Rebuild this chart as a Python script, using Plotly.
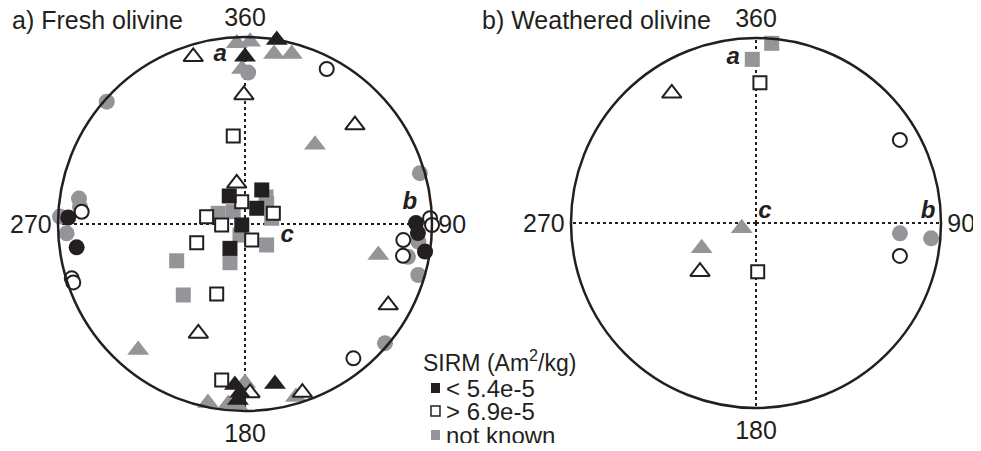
import plotly.graph_objects as go

# ---------------- data (azimuth in degrees clockwise from N, radius 0-1) -------------
# a) Fresh olivine
A_BLACK_SQ_AZ = [26.2, 330.7, 36.7, 253.1, 211.7]
A_BLACK_SQ_R = [0.203, 0.172, 0.105, 0.018, 0.153]
A_OPEN_SQ_AZ = [352.4, 351.6, 69.3, 280.8, 267.5, 157.3, 248.8, 202.0, 188.5]
A_OPEN_SQ_R = [0.475, 0.120, 0.162, 0.209, 0.125, 0.093, 0.277, 0.404, 0.843]
A_GRAY_SQ_AZ = [291.8, 316.4, 46.3, 77.9, 204.4, 134.1, 201.2, 241.7, 221.0, 37.9]
A_GRAY_SQ_R = [0.154, 0.091, 0.160, 0.146, 0.065, 0.161, 0.222, 0.415, 0.503, 0.183]

A_BLACK_TRI_AZ = [9.8, 0.0, 183.6, 181.7, 182.3, 169.4]
A_BLACK_TRI_R = [0.998, 0.895, 0.863, 0.904, 0.942, 0.871]
A_OPEN_TRI_AZ = [342.8, 359.5, 48.0, 348.5, 203.1, 119.5, 178.3, 161.2]
A_OPEN_TRI_R = [0.936, 0.690, 0.791, 0.222, 0.636, 0.880, 0.904, 0.952]
A_GRAY_TRI_AZ = [357.4, 1.6, 9.7, 15.4, 358.9, 41.5, 103.1, 220.3, 191.7, 185.3, 180.0, 163.6, 182.5]
A_GRAY_TRI_R = [0.967, 0.975, 0.922, 0.943, 0.829, 0.565, 0.732, 0.883, 0.977, 0.967, 0.850, 0.965, 0.969]

A_BLACK_CIR_AZ = [272.1, 262.1, 89.7, 93.0, 98.7]
A_BLACK_CIR_R = [0.946, 0.909, 0.914, 0.926, 0.974]
A_OPEN_CIR_AZ = [27.8, 274.3, 252.6, 251.2, 88.2, 95.8, 101.4, 141.1, 90.3]
A_OPEN_CIR_R = [0.937, 0.876, 0.971, 0.970, 0.990, 0.851, 0.862, 0.923, 1.0]
A_GRAY_CIR_AZ = [311.5, 1.2, 73.8, 278.7, 275.9, 272.3, 267.0, 95.8, 101.4, 106.4, 130.4]
A_GRAY_CIR_R = [0.987, 0.810, 0.974, 0.898, 0.887, 0.990, 0.955, 0.932, 0.889, 0.966, 0.983]

# b) Weathered olivine
B_GRAY_SQ_AZ = [5.0, 358.7]
B_GRAY_SQ_R = [0.975, 0.885]
B_OPEN_SQ_AZ = [1.6, 178.0]
B_OPEN_SQ_R = [0.759, 0.263]
B_OPEN_TRI_AZ = [327.0, 229.0]
B_OPEN_TRI_R = [0.836, 0.401]
B_GRAY_TRI_AZ = [249.7, 245.0]
B_GRAY_TRI_R = [0.082, 0.324]
B_OPEN_CIR_AZ = [60.0, 102.9]
B_OPEN_CIR_R = [0.898, 0.798]
B_GRAY_CIR_AZ = [94.1, 95.0]
B_GRAY_CIR_R = [0.780, 0.950]

# axis labels (a, b, c crystallographic axes)
AXIS_LABELS = ["a", "b", "c"]
A_AXIS_AZ = [351.6, 82.7, 106.0]
A_AXIS_R = [0.913, 0.889, 0.234]
B_AXIS_AZ = [352.1, 86.3, 39.3]
B_AXIS_R = [0.900, 0.932, 0.077]

ANG_TICKVALS = [0, 90, 180, 270]
ANG_TICKTEXT = ["360", "90", "180", "270"]

PANEL_TITLES = ["a) Fresh olivine", "b) Weathered olivine"]
LEGEND_TITLE = "SIRM (Am<sup>2</sup>/kg)"
LEGEND_LABELS = ["< 5.4e-5", "> 6.9e-5", "not known"]

# ---------------- styling -------------
BLACK = "#231f20"
GRAY = "#939598"
FONT = "Liberation Sans, Arial, sans-serif"

STYLE = {
    "black": dict(color=BLACK, line=dict(width=0)),
    "gray": dict(color=GRAY, line=dict(width=0)),
    "open": dict(color="white", line=dict(color=BLACK, width=2)),
}
SYMBOL = {"sq": ("square", 15), "tri": ("triangle-up", 19), "cir": ("circle", 16)}

fig = go.Figure()


def add_pts(az, r, cls, shp, subplot):
    sym, size = SYMBOL[shp]
    if cls == "open":
        size -= 2
    fig.add_trace(go.Scatterpolar(
        theta=az, r=r, mode="markers", subplot=subplot, cliponaxis=False,
        marker=dict(symbol=sym, size=size, **STYLE[cls]),
        showlegend=False, hoverinfo="skip"))


# panel a: gray, open, black drawing order
add_pts(A_GRAY_CIR_AZ, A_GRAY_CIR_R, "gray", "cir", "polar")
add_pts(A_GRAY_TRI_AZ, A_GRAY_TRI_R, "gray", "tri", "polar")
add_pts(A_GRAY_SQ_AZ, A_GRAY_SQ_R, "gray", "sq", "polar")
add_pts(A_OPEN_CIR_AZ, A_OPEN_CIR_R, "open", "cir", "polar")
add_pts(A_OPEN_TRI_AZ, A_OPEN_TRI_R, "open", "tri", "polar")
add_pts(A_OPEN_SQ_AZ, A_OPEN_SQ_R, "open", "sq", "polar")
add_pts(A_BLACK_CIR_AZ, A_BLACK_CIR_R, "black", "cir", "polar")
add_pts(A_BLACK_TRI_AZ, A_BLACK_TRI_R, "black", "tri", "polar")
add_pts(A_BLACK_SQ_AZ, A_BLACK_SQ_R, "black", "sq", "polar")

# panel b
add_pts(B_GRAY_CIR_AZ, B_GRAY_CIR_R, "gray", "cir", "polar2")
add_pts(B_GRAY_TRI_AZ, B_GRAY_TRI_R, "gray", "tri", "polar2")
add_pts(B_GRAY_SQ_AZ, B_GRAY_SQ_R, "gray", "sq", "polar2")
add_pts(B_OPEN_CIR_AZ, B_OPEN_CIR_R, "open", "cir", "polar2")
add_pts(B_OPEN_TRI_AZ, B_OPEN_TRI_R, "open", "tri", "polar2")
add_pts(B_OPEN_SQ_AZ, B_OPEN_SQ_R, "open", "sq", "polar2")

for az, r, sp in [(A_AXIS_AZ, A_AXIS_R, "polar"), (B_AXIS_AZ, B_AXIS_R, "polar2")]:
    fig.add_trace(go.Scatterpolar(
        theta=az, r=r, mode="text", subplot=sp, cliponaxis=False,
        text=[f"<b><i>{t}</i></b>" for t in AXIS_LABELS],
        textfont=dict(family=FONT, size=24, color=BLACK),
        showlegend=False, hoverinfo="skip"))


def polar_cfg(xdom, ydom):
    return dict(
        domain=dict(x=xdom, y=ydom),
        bgcolor="white",
        angularaxis=dict(
            rotation=90, direction="clockwise",
            tickmode="array", tickvals=ANG_TICKVALS, ticktext=ANG_TICKTEXT,
            ticks="", showline=True, linecolor=BLACK, linewidth=2.5,
            showgrid=True, gridcolor=BLACK, gridwidth=2, griddash="dot",
            tickfont=dict(family=FONT, size=25, color=BLACK),
        ),
        radialaxis=dict(visible=False, range=[0, 1]),
    )


# the page body has an 8px margin, so the figure is 16px smaller than the window
W, H = 965, 435

fig.update_layout(
    width=W, height=H,
    margin=dict(l=0, r=0, t=0, b=0),
    paper_bgcolor="white",
    showlegend=False,
    polar=polar_cfg([50 / W, 424 / W], [32 / H, 406 / H]),
    polar2=polar_cfg([563 / W, 933 / W], [35 / H, 405 / H]),
    font=dict(family=FONT, color=BLACK),
)

# panel titles
for txt, x in zip(PANEL_TITLES, [2, 472]):
    fig.add_annotation(text=txt, x=x / W, y=1 - 12 / H, xref="paper", yref="paper",
                       xanchor="left", yanchor="middle", showarrow=False,
                       font=dict(family=FONT, size=25, color=BLACK))

# manual legend
fig.add_annotation(text=LEGEND_TITLE, x=413 / W, y=1 - 353 / H, xref="paper", yref="paper",
                   xanchor="left", yanchor="middle", showarrow=False,
                   font=dict(family=FONT, size=23, color=BLACK))
leg_rows_y = [380, 403, 427]
leg_fill = [BLACK, "white", GRAY]
leg_line = [0, 1.5, 0]
for lab, yy, fc, lw in zip(LEGEND_LABELS, leg_rows_y, leg_fill, leg_line):
    fig.add_shape(type="rect", xref="paper", yref="paper",
                  x0=423 / W, x1=432 / W, y0=1 - (yy + 5) / H, y1=1 - (yy - 5) / H,
                  fillcolor=fc, line=dict(color=BLACK, width=lw))
    fig.add_annotation(text=lab, x=436 / W, y=1 - yy / H, xref="paper", yref="paper",
                       xanchor="left", yanchor="middle", showarrow=False,
                       font=dict(family=FONT, size=24, color=BLACK))

fig.write_html("out.html")
